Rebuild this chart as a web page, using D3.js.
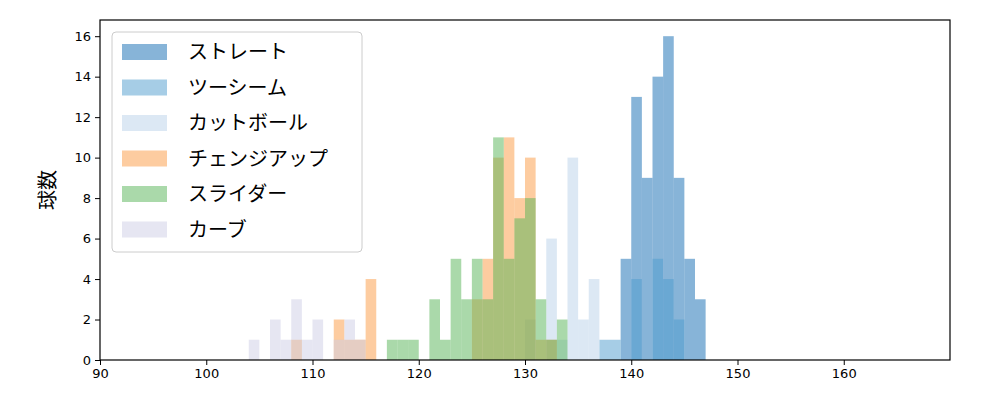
<!DOCTYPE html>
<meta charset="utf-8">
<script src="https://d3js.org/d3.v7.min.js"></script>
<style>
  body{margin:0;background:#fff;}
  text{font-family:"Noto Sans CJK JP","DejaVu Sans",sans-serif;}
</style>
<div id="chart"></div>
<script>
// pitch types and counts per 1 km/h bin (bin start -> count)
const pitchTypes = ["ストレート", "ツーシーム", "カットボール", "チェンジアップ", "スライダー", "カーブ"];
const colors = ["#0f69b1", "#4d9bcd", "#b9d1e9", "#fb9941", "#55b355", "#cdcde5"];
const straight = [[139,5],[140,13],[141,9],[142,14],[143,16],[144,9],[145,5],[146,3]];
const twoSeam = [[137,1],[138,1],[140,4],[142,5],[143,4],[144,2]];
const cutter = [[130,2],[132,6],[133,1],[134,10],[135,2],[136,4]];
const changeup = [[108,1],[112,2],[113,1],[114,1],[115,4],[125,3],[126,5],[127,10],[128,11],[129,8],[130,10],[131,1],[132,1]];
const slider = [[117,1],[118,1],[119,1],[121,3],[122,1],[123,5],[124,3],[125,5],[126,3],[127,11],[128,5],[129,7],[130,8],[131,3],[132,1],[133,2]];
const curve = [[104,1],[106,2],[107,1],[108,3],[109,1],[110,2],[112,1],[113,2],[114,1]];
const series = [straight, twoSeam, cutter, changeup, slider, curve];
const xTicks = [90, 100, 110, 120, 130, 140, 150, 160];
const yTicks = [0, 2, 4, 6, 8, 10, 12, 14, 16];

const margin = {top: 20, right: 50, bottom: 40, left: 100},
      width = 1000 - margin.left - margin.right,
      height = 400 - margin.top - margin.bottom;

const svg = d3.select("#chart").append("svg")
    .attr("width", 1000).attr("height", 400)
  .append("g")
    .attr("transform", `translate(${margin.left},${margin.top})`);

const x = d3.scaleLinear().domain([90, 170]).range([0, width]);
const y = d3.scaleLinear().domain([0, 16.8]).range([height, 0]);

series.forEach(function(s, i) {
  svg.selectAll(".bar" + i)
    .data(s)
    .join("rect")
      .attr("x", d => x(d[0]))
      .attr("width", d => x(d[0] + 1) - x(d[0]))
      .attr("y", d => y(d[1]))
      .attr("height", d => y(0) - y(d[1]))
      .style("fill", colors[i])
      .style("fill-opacity", 0.5);
});

svg.append("g")
  .attr("transform", `translate(0,${height})`)
  .call(d3.axisBottom(x).tickValues(xTicks).tickSize(5).tickPadding(4))
  .call(g => g.selectAll("text").style("font-size", "13px").style("font-family", "DejaVu Sans"));
svg.append("g")
  .call(d3.axisLeft(y).tickValues(yTicks).tickSize(5).tickPadding(4))
  .call(g => g.selectAll("text").style("font-size", "13px").style("font-family", "DejaVu Sans"));
svg.selectAll(".domain").remove();
svg.append("rect").attr("width", width).attr("height", height)
  .style("fill", "none").style("stroke", "#000").style("stroke-width", 1.2);

svg.append("text")
  .attr("transform", `translate(-45,${height / 2}) rotate(-90)`)
  .attr("text-anchor", "middle")
  .style("font-size", "20px")
  .text("球数");

// legend
const lg = svg.append("g").attr("transform", "translate(12,12)");
lg.append("rect").attr("width", 250).attr("height", 220).attr("rx", 4)
  .style("fill", "#fff").style("fill-opacity", 0.8).style("stroke", "#ccc");
pitchTypes.forEach(function(p, i) {
  lg.append("rect").attr("x", 10).attr("y", 12 + i * 35.5).attr("width", 45).attr("height", 16)
    .style("fill", colors[i]).style("fill-opacity", 0.5);
  lg.append("text").attr("x", 76).attr("y", 20 + i * 35.5).attr("dy", "0.35em")
    .style("font-size", "20px").text(p);
});
</script>
